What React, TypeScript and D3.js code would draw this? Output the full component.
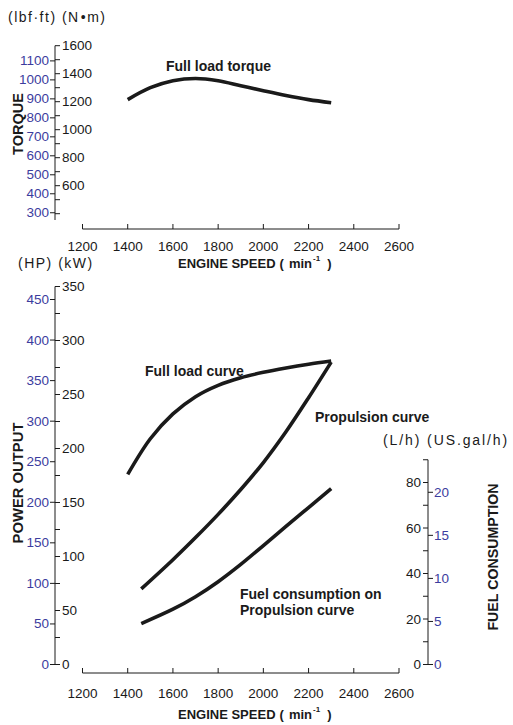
import React from "react";
import * as d3 from "d3";

const RPM_TICKS = [1200, 1400, 1600, 1800, 2000, 2200, 2400, 2600];

const TORQUE_RPM = [1400, 1500, 1600, 1700, 1800, 1900, 2000, 2100, 2200, 2300];
const TORQUE_NM = [1215, 1300, 1350, 1366, 1350, 1314, 1278, 1244, 1215, 1193];

const NM_TICKS = [400, 500, 600, 700, 800, 900, 1000, 1100, 1200, 1300, 1400, 1500, 1600];
const NM_LABELS = [600, 800, 1000, 1200, 1400, 1600];
const LBF_TICKS = [300, 400, 500, 600, 700, 800, 900, 1000, 1100];

const FULL_RPM = [1400, 1500, 1600, 1700, 1800, 1900, 2000, 2100, 2200, 2300];
const FULL_KW = [176, 209, 232, 248, 258.5, 265.5, 270.5, 274.5, 278, 281];

const PROP_RPM = [1460, 1600, 1700, 1800, 1900, 2000, 2100, 2200, 2300];
const PROP_KW = [70, 97, 117.5, 139, 162, 187, 215.5, 247, 280];
const FUEL_LPH = [18, 24.3, 29.8, 36.4, 44, 52.3, 60.7, 69, 77.3];

const KW_TICKS = [0, 25, 50, 75, 100, 125, 150, 175, 200, 225, 250, 275, 300, 325, 350];
const KW_LABELS = [0, 50, 100, 150, 200, 250, 300, 350];
const HP_TICKS = [0, 50, 100, 150, 200, 250, 300, 350, 400, 450];

const LPH_TICKS = [0, 10, 20, 30, 40, 50, 60, 70, 80, 90];
const LPH_LABELS = [0, 20, 40, 60, 80];
const GAL_TICKS = [0, 5, 10, 15, 20];

const FONT = "'Liberation Sans', Arial, Helvetica, 'Noto Sans CJK JP', sans-serif";
const BLUE = "#3c3c9e";
const INK = "#1a1a1a";

export default function App() {
  const x = d3.scaleLinear().domain([1200, 2600]).range([82.5, 399]);

  // top chart
  const yNm = d3.scaleLinear().domain([0, 1600]).range([269.7, 45.7]);
  const yLbf = (v: number) => yNm(v * 1.35582);
  const nmBottom = 220;

  // bottom chart
  const yKw = d3.scaleLinear().domain([0, 350]).range([664.5, 286.5]);
  const yHp = d3.scaleLinear().domain([0, 450]).range([664.5, 299.5]);
  const yL = d3.scaleLinear().domain([0, 80]).range([664.5, 482.5]);
  const yGal = (v: number) => yL(v * 3.785);

  const axL = 55;
  const axR = 428;
  const topBase = 229;
  const botBase = 673;

  const curve = d3.curveCatmullRom.alpha(0.5);
  const torqueLine = d3
    .line<number>()
    .x((_, i) => x(TORQUE_RPM[i]))
    .y((d) => yNm(d))
    .curve(curve)(TORQUE_NM);
  const fullLine = d3
    .line<number>()
    .x((_, i) => x(FULL_RPM[i]))
    .y((d) => yKw(d))
    .curve(curve)(FULL_KW);
  const propLine = d3
    .line<number>()
    .x((_, i) => x(PROP_RPM[i]))
    .y((d) => yKw(d))
    .curve(curve)(PROP_KW);
  const fuelLine = d3
    .line<number>()
    .x((_, i) => x(PROP_RPM[i]))
    .y((d) => yL(d))
    .curve(curve)(FUEL_LPH);

  const tickLen = 5;
  const num = { fontFamily: FONT, fontSize: 13.5 } as const;
  const bold = { fontFamily: FONT, fontSize: 14, fontWeight: 700 } as const;
  const unit = { fontFamily: FONT, fontSize: 14, letterSpacing: 1.5 } as const;

  const xAxis = (base: number, labelY: number, titleY: number) => (
    <g>
      <line x1={x(1200)} x2={x(2600)} y1={base} y2={base} stroke={INK} strokeWidth={1} />
      {RPM_TICKS.map((t) => (
        <line key={t} x1={x(t)} x2={x(t)} y1={base} y2={base - tickLen} stroke={INK} strokeWidth={1} />
      ))}
      {RPM_TICKS.map((t) => (
        <text key={"l" + t} x={x(t)} y={labelY} textAnchor="middle" dominantBaseline="central" fill={INK} {...num}>
          {t}
        </text>
      ))}
      <text x={178} y={titleY} dominantBaseline="central" fill={INK} fontFamily={FONT} fontSize={13} fontWeight={700}>
        ENGINE SPEED
        <tspan dx={4}>(</tspan>
        <tspan dx={5}>min</tspan>
        <tspan fontSize={8} dx={1} dy={-5}>-1</tspan>
        <tspan dx={7} dy={5}>)</tspan>
      </text>
    </g>
  );

  return (
    <svg width={513} height={725} style={{ display: "block", position: "absolute", left: 0, top: 0 }}>
      <rect width={513} height={725} fill="#fff" />
      {/* TOP CHART */}
      <text x={8} y={17} dominantBaseline="central" fill={INK} {...unit}>
        (lbf·ft) (N<tspan dx={1}>•</tspan>m)
      </text>
      <line x1={axL} x2={axL} y1={yNm(1600)} y2={nmBottom} stroke={INK} strokeWidth={1} />
      {NM_TICKS.map((t) => (
        <line key={t} x1={axL} x2={axL + tickLen} y1={yNm(t)} y2={yNm(t)} stroke={INK} strokeWidth={1} />
      ))}
      {NM_LABELS.map((t) => (
        <text key={t} x={axL + 7} y={yNm(t)} dominantBaseline="central" fill={INK} {...num}>
          {t}
        </text>
      ))}
      {LBF_TICKS.map((t) => (
        <g key={t}>
          <line x1={axL - tickLen} x2={axL} y1={yLbf(t)} y2={yLbf(t)} stroke={INK} strokeWidth={1} />
          <text x={axL - 6} y={yLbf(t)} textAnchor="end" dominantBaseline="central" fill={BLUE} {...num}>
            {t}
          </text>
        </g>
      ))}
      <text
        transform={`translate(18,124) rotate(-90)`}
        textAnchor="middle"
        dominantBaseline="central"
        fill={INK}
        {...bold}
        fontSize={14.5}
      >
        TORQUE
      </text>
      <path d={torqueLine ?? ""} fill="none" stroke={INK} strokeWidth={3.6} />
      <text x={166} y={66} dominantBaseline="central" fill={INK} {...bold}>
        Full load torque
      </text>
      {xAxis(topBase, 246, 263)}

      {/* BOTTOM CHART */}
      <text x={18} y={263} dominantBaseline="central" fill={INK} {...unit}>
        (HP) (kW)
      </text>
      <line x1={axL} x2={axL} y1={yKw(350)} y2={yKw(0)} stroke={INK} strokeWidth={1} />
      {KW_TICKS.map((t) => (
        <line key={t} x1={axL} x2={axL + tickLen} y1={yKw(t)} y2={yKw(t)} stroke={INK} strokeWidth={1} />
      ))}
      {KW_LABELS.map((t) => (
        <text key={t} x={axL + 7} y={yKw(t)} dominantBaseline="central" fill={INK} {...num}>
          {t}
        </text>
      ))}
      {HP_TICKS.map((t) => (
        <g key={t}>
          <line x1={axL - tickLen} x2={axL} y1={yHp(t)} y2={yHp(t)} stroke={INK} strokeWidth={1} />
          <text x={axL - 6} y={yHp(t)} textAnchor="end" dominantBaseline="central" fill={BLUE} {...num}>
            {t}
          </text>
        </g>
      ))}
      <text
        transform={`translate(18,483) rotate(-90)`}
        textAnchor="middle"
        dominantBaseline="central"
        fill={INK}
        {...bold}
        fontSize={14.8}
      >
        POWER OUTPUT
      </text>

      {/* right fuel axis */}
      <text x={383} y={440} dominantBaseline="central" fill={INK} {...unit} letterSpacing={1.9}>
        (L/h) (US.gal/h)
      </text>
      <line x1={axR} x2={axR} y1={yL(90)} y2={yL(0)} stroke={INK} strokeWidth={1} />
      {LPH_TICKS.map((t) => (
        <line key={t} x1={axR - tickLen} x2={axR} y1={yL(t)} y2={yL(t)} stroke={INK} strokeWidth={1} />
      ))}
      {LPH_LABELS.map((t) => (
        <text key={t} x={axR - 7} y={yL(t)} textAnchor="end" dominantBaseline="central" fill={INK} {...num}>
          {t}
        </text>
      ))}
      {GAL_TICKS.map((t) => (
        <g key={t}>
          <line x1={axR} x2={axR + tickLen} y1={yGal(t)} y2={yGal(t)} stroke={INK} strokeWidth={1} />
          <text x={axR + 6} y={yGal(t)} dominantBaseline="central" fill={BLUE} {...num}>
            {t}
          </text>
        </g>
      ))}
      <text
        transform={`translate(493,557) rotate(-90)`}
        textAnchor="middle"
        dominantBaseline="central"
        fill={INK}
        {...bold}
        fontSize={14.2}
      >
        FUEL CONSUMPTION
      </text>

      <path d={fullLine ?? ""} fill="none" stroke={INK} strokeWidth={3.6} />
      <path d={propLine ?? ""} fill="none" stroke={INK} strokeWidth={3.6} />
      <path d={fuelLine ?? ""} fill="none" stroke={INK} strokeWidth={3.6} />

      <text x={145} y={371} dominantBaseline="central" fill={INK} {...bold}>
        Full load curve
      </text>
      <text x={315} y={417} dominantBaseline="central" fill={INK} {...bold}>
        Propulsion curve
      </text>
      <text x={240} y={594} dominantBaseline="central" fill={INK} {...bold}>
        Fuel consumption on
      </text>
      <text x={240} y={610} dominantBaseline="central" fill={INK} {...bold}>
        Propulsion curve
      </text>

      {xAxis(botBase, 693, 714)}
    </svg>
  );
}
